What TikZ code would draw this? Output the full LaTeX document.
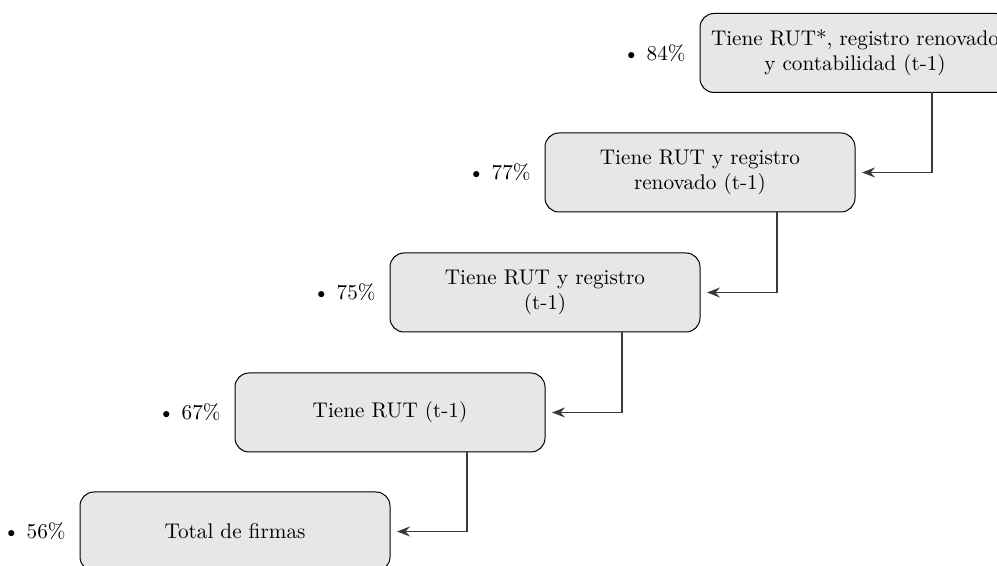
\documentclass[tikz,border=0pt]{standalone}
\usetikzlibrary{arrows.meta}
\definecolor{boxgray}{HTML}{E6E7E8}
\definecolor{linegray}{HTML}{3A3A3A}
\begin{document}
\begin{tikzpicture}[x=0.5pt,y=-0.5pt,
  stagebox/.style={draw=black,line width=0.5pt,fill=boxgray,rounded corners=7pt,
    minimum width=155pt,minimum height=39.5pt,outer sep=0pt,inner sep=2pt,
    align=center,font=\fontsize{10.6}{12.5}\selectfont},
  share/.style={anchor=east,inner sep=0pt,font=\fontsize{10.6}{12.5}\selectfont},
  conn/.style={draw=linegray,line width=0.6pt,-{Stealth[length=6.5pt,width=5pt,inset=2.2pt]},shorten >=3.5pt}]
  \useasboundingbox (0,0) rectangle (997,566);

  % the five stages, each one step down and to the left
  \node[stagebox] (b1) at (855,53)    {Tiene RUT*, registro renovado\\y contabilidad (t-1)};
  \node[stagebox] (b2) at (700,172.5) {Tiene RUT y registro\\renovado (t-1)};
  \node[stagebox] (b3) at (545,292.5) {Tiene RUT y registro\\(t-1)};
  \node[stagebox] (b4) at (390,412.5) {Tiene RUT (t-1)};
  \node[stagebox] (b5) at (235,531.5) {Total de firmas};

  % shares next to each stage
  \node[share] (p1) at ([xshift=-7pt]b1.west) {\textbullet\ 84\%};
  \node[share] (p2) at ([xshift=-7pt]b2.west) {\textbullet\ 77\%};
  \node[share] (p3) at ([xshift=-7pt]b3.west) {\textbullet\ 75\%};
  \node[share] (p4) at ([xshift=-7pt]b4.west) {\textbullet\ 67\%};
  \node[share] (p5) at ([xshift=-7pt]b5.west) {\textbullet\ 56\%};

  % elbow connectors from each stage to the next one
  \draw[conn] ([xshift=116pt]b1.south west) |- (b2.east);
  \draw[conn] ([xshift=116pt]b2.south west) |- (b3.east);
  \draw[conn] ([xshift=116pt]b3.south west) |- (b4.east);
  \draw[conn] ([xshift=116pt]b4.south west) |- (b5.east);
\end{tikzpicture}
\end{document}
